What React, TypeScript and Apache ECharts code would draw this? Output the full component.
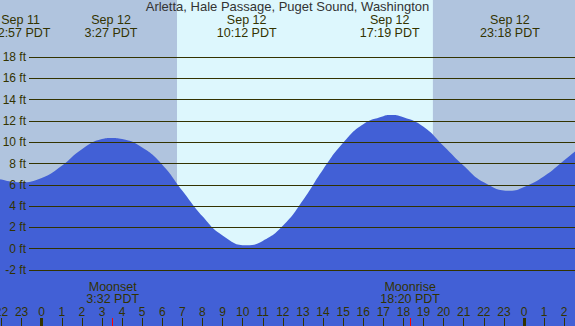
import React, { useEffect, useRef } from "react";
import * as echarts from "echarts";

const hours = [-3, -2, 0, 1, 2, 3, 4, 5, 6, 7, 8, 9, 11, 12, 13, 14, 15, 16, 17, 18, 19, 20, 21, 22, 24, 25, 26, 27];
const heights = [7.2, 6.55, 6.7, 7.85, 9.4, 10.35, 10.35, 9.55, 7.95, 5.5, 3.1, 1.3, 0.78, 2.2, 4.6, 7.5, 10.0, 11.75, 12.5, 12.4, 11.5, 9.7, 7.85, 6.3, 5.85, 6.85, 8.35, 9.9];

// High / low tide events (times in hours from midnight Sep 12, heights in ft)
const tideTimes = [-1.05, 3.45, 10.2, 17.3167, 23.3];
const tideHeights = [6.3, 10.45, 0.37, 12.6, 5.5];
const tideLabels = ["Sep 11\n22:57 PDT", "Sep 12\n3:27 PDT", "Sep 12\n10:12 PDT", "Sep 12\n17:19 PDT", "Sep 12\n23:18 PDT"];

// Moon events
const moonTimes = [3.5333, 18.3333];
const moonLabels = ["Moonset\n3:32 PDT", "Moonrise\n18:20 PDT"];

// Daylight
const sunrise = 6.7333;
const sunset = 19.4667;

// Hour ticks
const hourTicks = [-2, -1, 0, 1, 2, 3, 4, 5, 6, 7, 8, 9, 10, 11, 12, 13, 14, 15, 16, 17, 18, 19, 20, 21, 22, 23, 24, 25, 26];
const midnightTicks = [0, 24];

const TITLE = "Arletta, Hale Passage, Puget Sound, Washington";

const NIGHT = "#b0c4de";
const DAY = "#ddf7fd";
const BLUE = "#4260d6";
const INK = "#333300";
const FONT = "'Liberation Sans', Arial, sans-serif";

const XMIN = -41.7 / 20.096;
const XMAX = (575 - 41.7) / 20.096;
const YMIN = -(326 - 249.3) / 10.65;
const YMAX = 249.3 / 10.65;

function nearestLabel(times: number[], labels: string[], v: number) {
  let best = 0;
  for (let i = 1; i < times.length; i++) {
    if (Math.abs(times[i] - v) < Math.abs(times[best] - v)) best = i;
  }
  return labels[best];
}

export default function App() {
  const ref = useRef<HTMLDivElement>(null);
  useEffect(() => {
    if (!ref.current) return;
    const chart = echarts.init(ref.current, undefined, { renderer: "svg" });
    const tidePoints = hours
      .map((h, i) => [h, heights[i]])
      .concat(tideTimes.map((t, i) => [t, tideHeights[i]]))
      .sort((a, b) => a[0] - b[0]);
    const baseX = {
      type: "value" as const,
      gridIndex: 0,
      min: XMIN,
      max: XMAX,
      axisLine: { show: false, onZero: false },
      splitLine: { show: false },
      z: 10,
    };
    chart.setOption({
      animation: false,
      backgroundColor: NIGHT,
      title: {
        text: TITLE,
        left: "center",
        top: 0,
        padding: 0,
        textStyle: { fontSize: 13, fontWeight: "normal", color: "#333", fontFamily: FONT },
      },
      grid: [
        { left: 0, right: 0, top: 0, bottom: 0, outerBoundsMode: "none", containLabel: false },
        { left: 29, right: 0, top: 57, bottom: 56, outerBoundsMode: "none", containLabel: false },
      ],
      xAxis: [
        {
          ...baseX,
          position: "bottom",
          axisTick: { show: true, inside: true, length: 8, customValues: hourTicks, lineStyle: { color: INK, width: 1 } },
          axisLabel: {
            show: true,
            inside: true,
            margin: 8,
            customValues: hourTicks,
            color: INK,
            fontSize: 12,
            fontFamily: FONT,
            formatter: (v: number) => String(((Math.round(v) % 24) + 24) % 24),
          },
        },
        {
          ...baseX,
          position: "bottom",
          axisTick: { show: true, inside: true, length: 8, customValues: midnightTicks, lineStyle: { color: INK, width: 3 } },
          axisLabel: { show: false },
        },
        {
          ...baseX,
          position: "bottom",
          axisTick: { show: true, inside: true, length: 8, customValues: moonTimes, lineStyle: { color: "#ff0000", width: 1 } },
          axisLabel: {
            show: true,
            inside: true,
            margin: 20.5,
            customValues: moonTimes,
            color: INK,
            fontSize: 12.5,
            lineHeight: 12.5,
            fontFamily: FONT,
            formatter: (v: number) => nearestLabel(moonTimes, moonLabels, v),
          },
        },
        {
          ...baseX,
          position: "top",
          axisTick: { show: false },
          axisLabel: {
            show: true,
            inside: true,
            margin: 14,
            customValues: tideTimes,
            color: INK,
            fontSize: 12.5,
            lineHeight: 12.5,
            fontFamily: FONT,
            formatter: (v: number) => nearestLabel(tideTimes, tideLabels, v),
          },
        },
        { type: "value", gridIndex: 1, min: XMIN, max: XMAX, show: false },
      ],
      yAxis: [
        { type: "value", gridIndex: 0, min: YMIN, max: YMAX, show: false },
        {
          type: "value",
          gridIndex: 1,
          min: -2,
          max: 18,
          interval: 2,
          z: 10,
          axisLine: { show: false, onZero: false },
          axisTick: { show: false },
          axisLabel: { formatter: "{value} ft", margin: 3, color: INK, fontSize: 12, fontFamily: FONT },
          splitLine: { show: true, lineStyle: { color: INK, width: 1 } },
        },
      ],
      series: [
        {
          type: "line",
          xAxisIndex: 0,
          yAxisIndex: 0,
          data: [[sunrise, 0]],
          symbol: "none",
          lineStyle: { opacity: 0 },
          silent: true,
          z: 1,
          markArea: {
            silent: true,
            itemStyle: { color: DAY },
            data: [[{ xAxis: sunrise }, { xAxis: sunset }]],
          },
        },
        {
          type: "line",
          xAxisIndex: 0,
          yAxisIndex: 0,
          data: tidePoints,
          smooth: 0.5,
          symbol: "none",
          showSymbol: false,
          lineStyle: { width: 0, opacity: 0 },
          areaStyle: { color: BLUE, opacity: 1, origin: "start" },
          silent: true,
          z: 2,
        },
      ],
    });
    return () => chart.dispose();
  }, []);
  return <div ref={ref} style={{ position: "fixed", left: 0, top: 0, width: 575, height: 326 }} />;
}
